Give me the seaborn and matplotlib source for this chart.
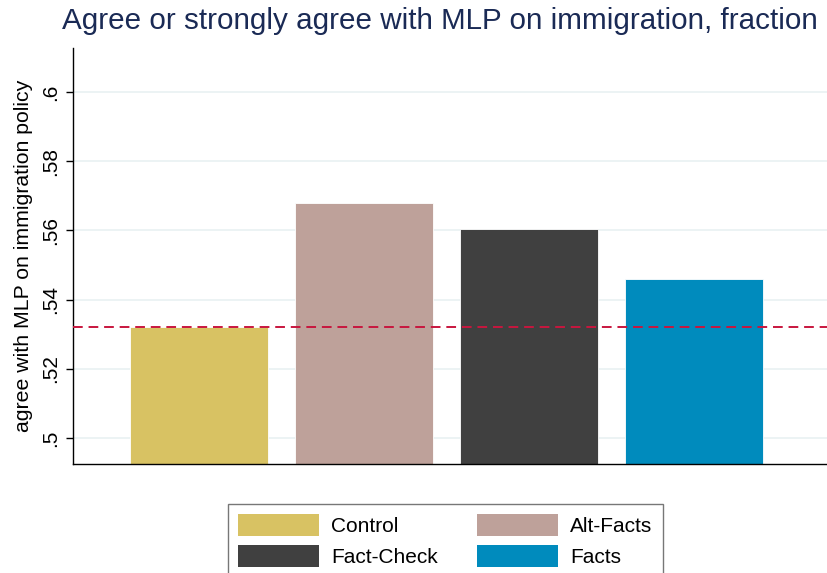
import pandas as pd
import matplotlib.pyplot as plt
import seaborn as sns
from matplotlib.patches import Patch

groups = ['Control', 'Alt-Facts', 'Fact-Check', 'Facts']
values = [0.5322, 0.5678, 0.5605, 0.5460]
colors = ['#D8C263', '#BEA19A', '#404040', '#008BBD']
baseline = 0.5322
yticks = [0.5, 0.52, 0.54, 0.56, 0.58, 0.6]
ytick_labels = ['.5', '.52', '.54', '.56', '.58', '.6']

df = pd.DataFrame({'group': groups, 'value': values})

sns.set_style('white')
plt.rcParams['font.family'] = ['Liberation Sans', 'DejaVu Sans']
plt.rcParams['text.color'] = 'black'
plt.rcParams['axes.labelcolor'] = 'black'
plt.rcParams['ytick.color'] = 'black'

fig = plt.figure(figsize=(8.27, 5.73), dpi=100)
ax = fig.add_axes([73 / 827, 1 - 464 / 573, 754 / 827, (464 - 48) / 573])

sns.barplot(data=df, x='group', y='value', hue='group', palette=colors,
            saturation=1, width=0.836, dodge=False, legend=False, ax=ax, zorder=2)
for p in ax.patches:
    p.set_edgecolor('white')
    p.set_linewidth(0.6)

ax.axhline(baseline, color='#C8163E', linestyle=(0, (5, 3)), linewidth=1.4, zorder=3)

ax.set_ylim(0.4925, 0.6127)
ax.set_xlim(-0.764, 3.806)
ax.set_yticks(yticks)
ax.set_yticklabels(ytick_labels, rotation=90, va='center', fontsize=15)
ax.tick_params(axis='y', length=5, width=1, direction='out', left=True, pad=4)
ax.set_xticks([])
ax.set_xlabel('')
ax.set_ylabel('agree with MLP on immigration policy', fontsize=15.3, labelpad=6)
ax.grid(axis='y', color='#EAF2F3', linewidth=1.3, zorder=0)
ax.set_axisbelow(True)
for s in ['top', 'right']:
    ax.spines[s].set_visible(False)
for s in ['left', 'bottom']:
    ax.spines[s].set_color('black')
    ax.spines[s].set_linewidth(1)

fig.text(62 / 827, 1 - 21 / 573, 'Agree or strongly agree with MLP on immigration, fraction',
         fontsize=21.3, color='#1A2A55', va='center', ha='left')

# legend fills column-wise, so order to get rows Control/Alt-Facts, Fact-Check/Facts
order = [0, 2, 1, 3]
handles = [Patch(facecolor=colors[i], edgecolor='none') for i in order]
labels = [groups[i] for i in order]
leg = fig.legend(handles, labels, ncol=2, loc='upper left',
                 bbox_to_anchor=(228 / 827, 1 - 504 / 573), fontsize=15,
                 frameon=True, fancybox=False, edgecolor='#555555',
                 handlelength=3.85, handleheight=1.25, handletextpad=0.6,
                 columnspacing=1.9, borderpad=0.5, labelspacing=0.4,
                 borderaxespad=0)
leg.get_frame().set_linewidth(1)

fig.savefig('out.png', dpi=100)
